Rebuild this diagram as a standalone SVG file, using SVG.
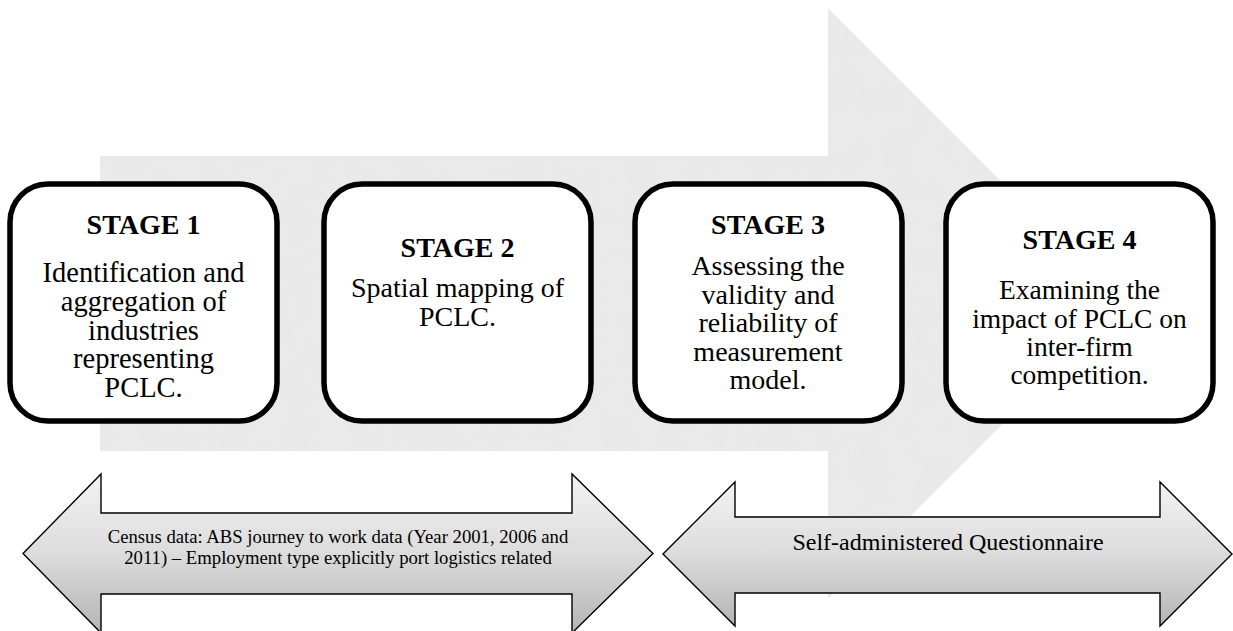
<svg xmlns="http://www.w3.org/2000/svg" width="1233" height="631" viewBox="0 0 1233 631">
  <defs>
    <linearGradient id="bandFill" x1="0" y1="0" x2="0" y2="1">
      <stop offset="0" stop-color="#f3f3f3"/>
      <stop offset="0.5" stop-color="#dcdcdc"/>
      <stop offset="1" stop-color="#b4b4b4"/>
    </linearGradient>
    <filter id="grain" x="0" y="0" width="100%" height="100%">
      <feTurbulence type="fractalNoise" baseFrequency="0.035" numOctaves="2" seed="4" result="noise"/>
      <feColorMatrix in="noise" type="matrix" values="0 0 0 0 0.5  0 0 0 0 0.5  0 0 0 0 0.5  0 0 0 0.07 0" result="speck"/>
      <feComposite in="speck" in2="SourceGraphic" operator="in" result="clipped"/>
      <feMerge><feMergeNode in="SourceGraphic"/><feMergeNode in="clipped"/></feMerge>
    </filter>
  </defs>
  <style>
    .flow { fill: #ebebeb; }
    .stage { fill: #ffffff; stroke: #000000; stroke-width: 5.5; }
    .band { fill: url(#bandFill); stroke: #000000; stroke-width: 1.4; stroke-linejoin: miter; }
    text { font-family: "Liberation Serif", "Times New Roman", serif; fill: #000000; text-anchor: middle; }
    .title { font-size: 28px; font-weight: bold; }
    .body { font-size: 28px; }
    .wide { font-size: 28.5px; }
    .tight { font-size: 27.5px; }
    .small { font-size: 18.7px; }
    .mid { font-size: 24px; }
  </style>

  <rect width="1233" height="631" fill="#ffffff"/>

  <!-- broad process arrow running behind the four stages -->
  <g id="connectors">
    <polygon class="flow" filter="url(#grain)" points="100,156 828,156 828,8 1123,303.5 828,599 828,451 100,451"/>
  </g>

  <g id="stage1">
    <rect class="stage" x="10" y="184" width="267" height="237" rx="38" ry="38"/>
    <text class="title" x="143.5" y="234">STAGE 1</text>
    <text class="body wide" x="143.5" y="282">Identification and</text>
    <text class="body wide" x="143.5" y="310.5">aggregation of</text>
    <text class="body wide" x="143.5" y="339.5">industries</text>
    <text class="body wide" x="143.5" y="368">representing</text>
    <text class="body wide" x="143.5" y="397">PCLC.</text>
  </g>

  <g id="stage2">
    <rect class="stage" x="324" y="184" width="267" height="237" rx="38" ry="38"/>
    <text class="title" x="457.5" y="257">STAGE 2</text>
    <text class="body" x="457.5" y="296.5">Spatial mapping of</text>
    <text class="body" x="457.5" y="326">PCLC.</text>
  </g>

  <g id="stage3">
    <rect class="stage" x="635" y="184" width="267" height="237" rx="38" ry="38"/>
    <text class="title" x="768" y="234">STAGE 3</text>
    <text class="body" x="768" y="275">Assessing the</text>
    <text class="body" x="768" y="303.5">validity and</text>
    <text class="body" x="768" y="332">reliability of</text>
    <text class="body" x="768" y="360.5">measurement</text>
    <text class="body" x="768" y="389">model.</text>
  </g>

  <g id="stage4">
    <rect class="stage" x="946" y="184" width="267" height="237" rx="38" ry="38"/>
    <text class="title" x="1079.5" y="249">STAGE 4</text>
    <text class="body tight" x="1079.5" y="299">Examining the</text>
    <text class="body tight" x="1079.5" y="327.5">impact of PCLC on</text>
    <text class="body tight" x="1079.5" y="355.5">inter-firm</text>
    <text class="body tight" x="1079.5" y="383.5">competition.</text>
  </g>

  <g id="source-census">
    <polygon class="band" points="23,553.5 101,474 101,513 572,513 572,474 653,553.5 572,633 572,594 101,594 101,633"/>
    <text class="small" x="338" y="542.5">Census data: ABS journey to work data (Year 2001, 2006 and</text>
    <text class="small" x="338" y="564">2011) – Employment type explicitly port logistics related</text>
  </g>

  <g id="source-questionnaire">
    <polygon class="band" points="663,554 735,482 735,517 1160,517 1160,482 1232,554 1160,626 1160,593 735,593 735,626"/>
    <text class="mid" x="948" y="550">Self-administered Questionnaire</text>
  </g>
</svg>
